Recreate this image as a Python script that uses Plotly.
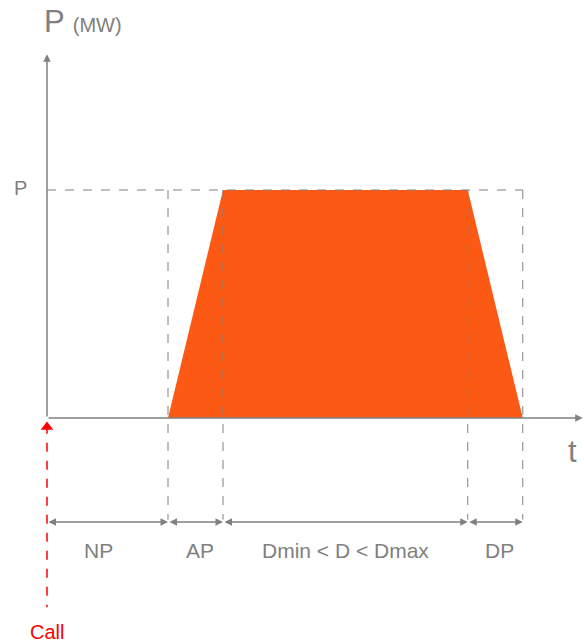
import plotly.graph_objects as go

# durations (arbitrary time units) and power level
phase_names = ["NP", "AP", "Dmin < D < Dmax", "DP"]
phase_durations = [2.2, 1.0, 4.45, 1.0]
label_shifts = [-9, 4, 0, 4]  # px nudges of the phase labels
power_level = 1.0

# derived time boundaries
bounds = [0.0]
for d in phase_durations:
    bounds.append(bounds[-1] + d)
t0, t1, t2, t3, t4 = bounds

GRAY = "#808080"
ORANGE = "#FC5A14"
RED = "#FF0000"
FONT = "Liberation Sans, Arial, sans-serif"

fig = go.Figure()

# power profile trapezoid
fig.add_trace(go.Scatter(
    x=[t1, t2, t3, t4, t1], y=[0, power_level, power_level, 0, 0],
    fill="toself", fillcolor=ORANGE, mode="lines", line=dict(width=0, color=ORANGE),
    hoverinfo="skip", showlegend=False))

dim_y = -0.456
shapes = []
shapes.append(dict(type="line", x0=t0, x1=t4, y0=power_level, y1=power_level,
                   line=dict(color=GRAY, width=1, dash="dash")))
for tb in [t1, t2, t3, t4]:
    shapes.append(dict(type="line", x0=tb, x1=tb, y0=power_level, y1=dim_y + 0.01,
                       line=dict(color=GRAY, width=1, dash="dash")))
shapes.append(dict(type="line", x0=t0, x1=t0, y0=-0.03, y1=-0.83,
                   line=dict(color=RED, width=1.5, dash="dash")))

annotations = []
annotations.append(dict(x=t0, y=1.595, ax=t0, ay=0, xref="x", yref="y", axref="x", ayref="y",
                        showarrow=True, arrowhead=2, arrowsize=1, arrowwidth=1.5,
                        arrowcolor=GRAY, text=""))
annotations.append(dict(x=9.74, y=0, ax=t0, ay=0, xref="x", yref="y", axref="x", ayref="y",
                        showarrow=True, arrowhead=2, arrowsize=1, arrowwidth=1.5,
                        arrowcolor=GRAY, text=""))
for a, b, name, sh in zip(bounds[:-1], bounds[1:], phase_names, label_shifts):
    annotations.append(dict(x=b, y=dim_y, ax=a, ay=dim_y, xref="x", yref="y",
                            axref="x", ayref="y", showarrow=True, arrowhead=2,
                            startarrowhead=2, arrowside="end+start", arrowsize=1,
                            startarrowsize=1, arrowwidth=1.5, arrowcolor=GRAY, text=""))
    annotations.append(dict(x=(a + b) / 2, y=dim_y - 0.125, xref="x", yref="y",
                            xshift=sh, text=name, showarrow=False,
                            font=dict(family=FONT, size=21, color=GRAY)))

annotations.append(dict(x=-0.49, y=power_level + 0.01, xref="x", yref="y", text="P",
                        showarrow=False, font=dict(family=FONT, size=20, color=GRAY)))
annotations.append(dict(x=-0.09, y=1.74, xref="x", yref="y", xanchor="left",
                        text="P <span style='font-size:20px'>(MW)</span>", showarrow=False,
                        font=dict(family=FONT, size=31, color=GRAY)))
annotations.append(dict(x=9.56, y=-0.145, xref="x", yref="y", text="t", showarrow=False,
                        font=dict(family=FONT, size=31, color=GRAY)))
annotations.append(dict(x=0.0, y=-0.94, xref="x", yref="y", text="Call", showarrow=False,
                        font=dict(family=FONT, size=20, color=RED)))

fig.add_trace(go.Scatter(x=[t0], y=[-0.04], mode="markers",
                         marker=dict(symbol="triangle-up", size=11, color=RED),
                         hoverinfo="skip", showlegend=False))

fig.update_layout(
    width=584, height=644, margin=dict(l=0, r=0, t=0, b=0),
    paper_bgcolor="white", plot_bgcolor="white",
    xaxis=dict(range=[-47 / 55, (584 - 47) / 55], visible=False, fixedrange=True),
    yaxis=dict(range=[-(644 - 418) / 228, 418 / 228], visible=False, fixedrange=True),
    shapes=shapes, annotations=annotations, showlegend=False)

fig.write_html("out.html", config={"displayModeBar": False},
               post_script="document.body.style.margin='0';document.body.style.overflow='hidden';")
